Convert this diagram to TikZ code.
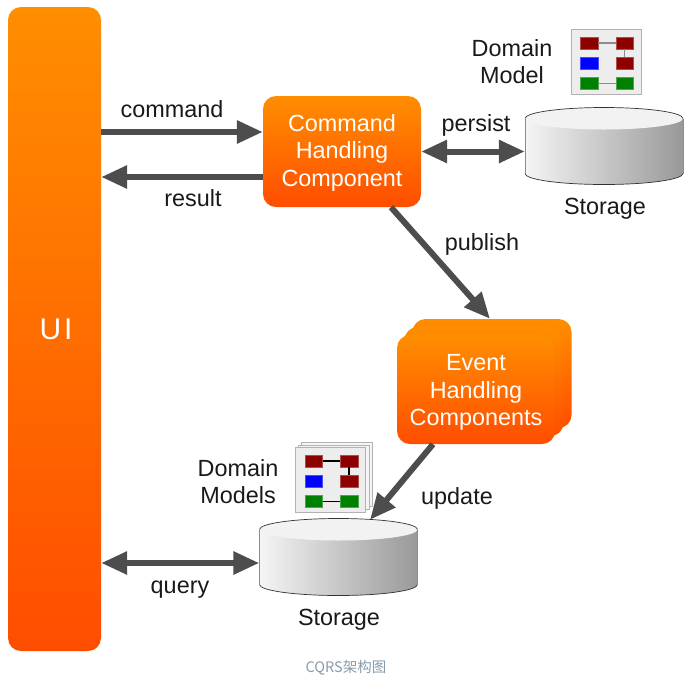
\documentclass[tikz,border=0pt]{standalone}
\usepackage{fontspec}
\setmainfont{Liberation Sans}
\newfontfamily\cjk{Noto Sans CJK SC}
\usetikzlibrary{arrows.meta}
\definecolor{flowgrey}{HTML}{4D4D4D}
\definecolor{captiongrey}{HTML}{8A9BAA}
\definecolor{boxtop}{HTML}{FF8E00}
\definecolor{boxbottom}{HTML}{FF4D00}
\tikzset{
    orangebox/.style={rounded corners=13pt, top color=boxtop, bottom color=boxbottom, shading angle=0,
        text=white, align=center, inner sep=0pt, font=\fontsize{23.4}{27.5}\selectfont},
    flowlabel/.style={font=\fontsize{23.4}{27}\selectfont, align=center, text=black!90},
    flow/.style={draw=flowgrey, line width=6pt, -{Triangle[length=26pt,width=22pt]}},
    bothflow/.style={flow, {Triangle[length=26pt,width=22pt]}-{Triangle[length=26pt,width=22pt]}},
    drumspot/.style={minimum width=158pt, minimum height=86pt, inner sep=0pt},
    unit/.style={draw=#1!70!white, line width=0.5pt, fill=#1, minimum width=17.5pt, minimum height=12pt, inner sep=0pt},
    iconsheet/.style={draw=black!30, fill=black!7, line width=0.8pt},
    drum/.pic={
        \shade[left color=black!4, right color=black!40, draw=none]
            (-79,0) -- (-79,55) arc[start angle=180, end angle=0, x radius=79, y radius=11] -- (79,0) -- cycle;
        \fill[black!5] (0,0) ellipse[x radius=79, y radius=11];
        \draw[black!80, line width=0.7pt] (-79,0) arc[start angle=180, end angle=360, x radius=79, y radius=11];
        \draw[black!80, line width=0.7pt] (-79,55) arc[start angle=180, end angle=0, x radius=79, y radius=11];
        \draw[black!45, line width=0.5pt] (-79,0) -- (-79,55) (79,0) -- (79,55);
    },
    modelicon/.pic={
        \draw[iconsheet] (0,0) rectangle (70,65);
        \node[unit=red!55!black] (-a) at (18,13.5) {};
        \node[unit=red!55!black] (-b) at (53.5,13.5) {};
        \node[unit=blue] (-c) at (18,34) {};
        \node[unit=red!55!black] (-d) at (53.5,34) {};
        \node[unit=green!50!black] (-e) at (18,54) {};
        \node[unit=green!50!black] (-f) at (53.5,54) {};
        \draw[line width=1.1pt] (-a) -- (-b);
        \draw[line width=1.1pt] (-b) -- (-d);
        \draw[line width=1.1pt, pic actions] (-e) -- (-f);
    }
}

\begin{document}
\begin{tikzpicture}[x=1pt, y=-1pt]
    \useasboundingbox (0,0) rectangle (694,681);
    % UI column
    \node[orangebox, minimum width=93pt, minimum height=644pt] (ui) at (54.5,329) {\fontsize{30}{32}\selectfont\kern3pt U\kern3pt I};
    % Command side
    \node[orangebox, minimum width=158pt, minimum height=111pt] (cmd) at (342,151.5) {\rule{0pt}{19.5pt}Command\\Handling\\Component};
    \pic at (604,118.5) {drum};
    \node[drumspot] (drumA) at (604,146) {};
    \pic[draw=black!45] (iconA) at (571,29.5) {modelicon};
    \node[flowlabel] (modelA) at (512,62) {Domain\\Model};
    \node[flowlabel] (storeA) at (605,208.5) {Storage};
    % Event side
    \foreach \name/\i in {evtback/16,evtmid/8} {
        \node[orangebox, minimum width=159pt, minimum height=109pt] (\name) at (476+\i,389.5-\i) {};
    }
    \node[orangebox, minimum width=158pt, minimum height=109pt] (evt) at (476,389.5) {\rule{0pt}{22pt}Event\\Handling\\Components};
    % Query side
    \pic at (338.5,529.5) {drum};
    \node[drumspot] (drumB) at (338.5,563) {};
    \foreach \i in {6,3} {
        \draw[iconsheet, fill=black!4] (295+\i,448-\i) rectangle (366+\i,512-\i);
    }
    \pic (iconB) at (295.5,447.5) {modelicon};
    \node[flowlabel] (modelB) at (238,482) {Domain\\Models};
    \node[flowlabel] (storeB) at (339,619.5) {Storage};
    % Anchors for arrows
    \coordinate (cmdin) at ([yshift=19.5pt]cmd.west);
    \coordinate (cmdout) at ([yshift=-25.5pt]cmd.west);
    \coordinate (cmdpub) at ([xshift=49pt]cmd.south);
    \coordinate (evtin) at ([xshift=-2pt]evtback.north);
    \coordinate (evtup) at ([xshift=-43pt]evt.south);
    \coordinate (drumtop) at ([xshift=31.5pt]drumB.north);
    % Arrows
    \draw[flow] (ui.east |- cmdin) -- (cmdin);
    \draw[flow] (cmdout) -- (ui.east |- cmdout);
    \draw[bothflow] (cmd.east) -- (cmd.east -| drumA.west);
    \draw[flow] (cmdpub) -- (evtin);
    \draw[flow] (evtup) -- (drumtop);
    \draw[bothflow] (ui.east |- drumB.west) -- (drumB.west);
    % Arrow labels
    \node[flowlabel] (lcommand) at (172,109) {command};
    \node[flowlabel] (lresult) at (193,198) {result};
    \node[flowlabel] (lpersist) at (476,125) {persist};
    \node[flowlabel] (lpublish) at (482,244) {publish};
    \node[flowlabel] (lupdate) at (457,498) {update};
    \node[flowlabel] (lquery) at (180,590) {query};
    \node[text=captiongrey, font=\cjk\fontsize{14.5}{16}\selectfont] (caption) at (346,667.5) {CQRS架构图};
\end{tikzpicture}
\end{document}
